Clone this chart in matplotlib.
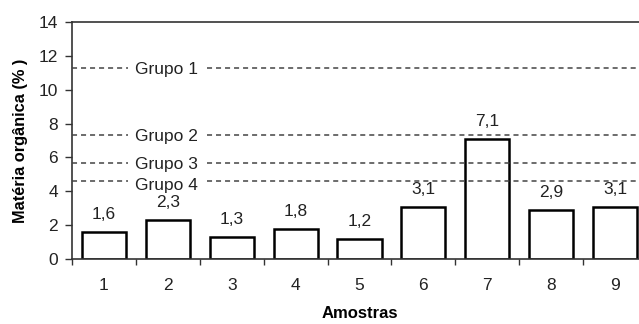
import matplotlib
matplotlib.use("Agg")
import matplotlib.pyplot as plt

amostras = ["1", "2", "3", "4", "5", "6", "7", "8", "9"]
valores = [1.6, 2.3, 1.3, 1.8, 1.2, 3.1, 7.1, 2.9, 3.1]
grupos = ["Grupo 1", "Grupo 2", "Grupo 3", "Grupo 4"]
grupo_niveis = [11.3, 7.3, 5.65, 4.6]
yticks = [0, 2, 4, 6, 8, 10, 12, 14]

plt.rcParams['font.family'] = ['Liberation Sans', 'DejaVu Sans']
TXT = '#222222'

fig = plt.figure(figsize=(6.39, 3.24), dpi=100)
ax = fig.add_axes([72/639, 65/324, 575/639, 237/324])

x = list(range(len(amostras)))
ax.bar(x, valores, width=0.69, color='white', edgecolor='black', linewidth=1.8, zorder=2)

for xi, v in zip(x, valores):
    ax.annotate(f"{v:.1f}".replace('.', ','), (xi, v), xytext=(0, 7), textcoords='offset points',
                ha='center', va='bottom', fontsize=12.5, color=TXT, zorder=4)

gap_start, gap_end = 0.38, 1.61
for g, lvl in zip(grupos, grupo_niveis):
    for a, b in [(-0.5, gap_start), (gap_end, len(amostras) - 0.5)]:
        ax.plot([a, b], [lvl, lvl], color='#444444', linestyle=(0, (3.3, 2.6)),
                linewidth=1.1, zorder=3)
    dy = -0.25 if g == "Grupo 4" else -0.08
    ax.text(0.98, lvl + dy, g, ha='center', va='center', fontsize=12.5, color=TXT, zorder=4)

ax.set_xlim(-0.5, len(amostras) - 0.5)
ax.set_ylim(0, 14)
ax.set_yticks(yticks)
ax.set_yticklabels([str(t) for t in yticks], fontsize=12.5, color=TXT)

ax.set_xticks([i + 0.5 for i in range(-1, len(amostras) - 1)])
ax.set_xticklabels([])
ax.set_xticks(x, minor=True)
ax.set_xticklabels(amostras, minor=True, fontsize=12.5, color=TXT)
ax.tick_params(axis='x', which='minor', length=0, pad=14)
ax.tick_params(axis='x', which='major', length=4, width=1, color='#333333', direction='out')
ax.tick_params(axis='y', length=5, width=1, color='#333333', direction='out', pad=5)

for s in ['left', 'bottom', 'top']:
    ax.spines[s].set_color('#333333')
    ax.spines[s].set_linewidth(1.2)
ax.spines['right'].set_visible(False)

ax.set_ylabel("Matéria orgânica (% )", fontsize=11.8, fontweight='bold', labelpad=8)
ax.set_xlabel("Amostras", fontsize=12, fontweight='bold', labelpad=9)

fig.savefig("out.png", dpi=100)
